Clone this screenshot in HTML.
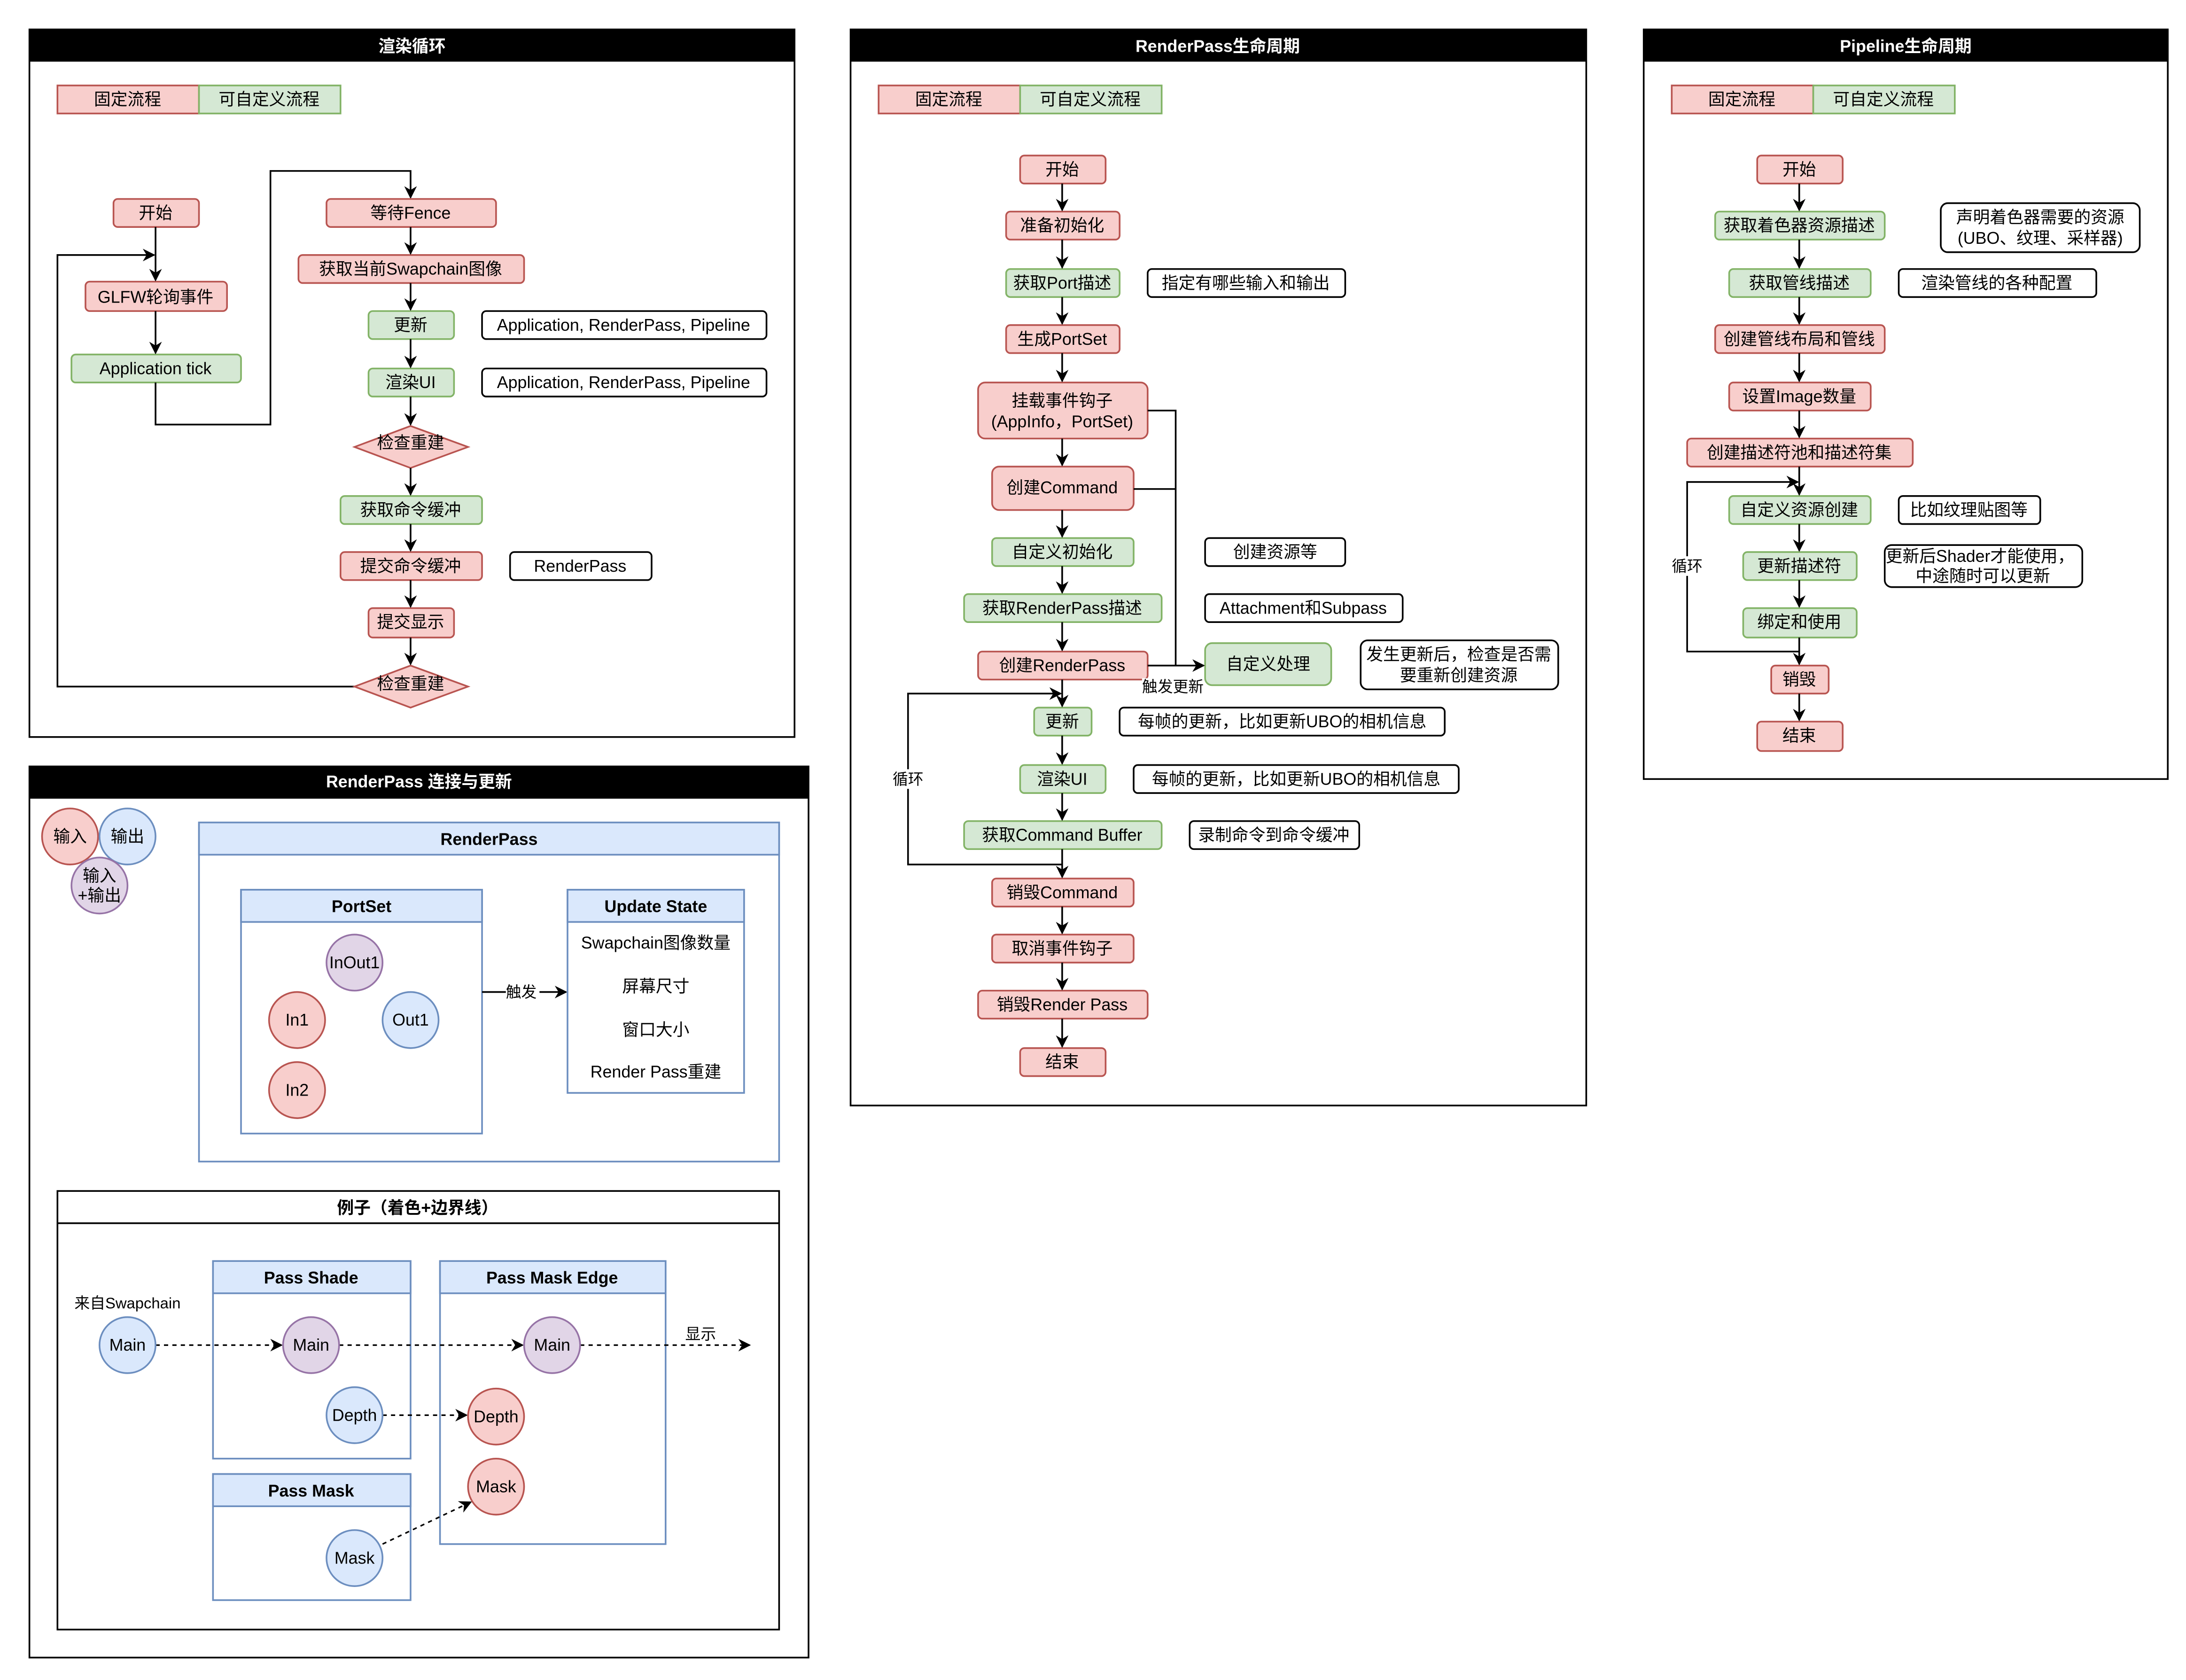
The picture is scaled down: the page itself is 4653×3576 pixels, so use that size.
<!DOCTYPE html>
<html><head><meta charset="utf-8"><style>
html,body{margin:0;padding:0;background:#fff;}
svg{display:block;}
text{font-family:"Liberation Sans","Noto Sans CJK SC",sans-serif;font-size:12px;fill:#000;text-anchor:middle;dominant-baseline:central;}
.t{font-weight:bold;fill:#fff;}
.b{font-weight:bold;}
.p{fill:#f8cecc;stroke:#b85450;stroke-width:1.2;}
.g{fill:#d5e8d4;stroke:#82b366;stroke-width:1.2;}
.w{fill:#fff;stroke:#000;stroke-width:1.2;}
.bl{fill:#dae8fc;stroke:#6c8ebf;stroke-width:1.2;}
.pu{fill:#e1d5e7;stroke:#9673a6;stroke-width:1.2;}
.bo{fill:none;stroke:#6c8ebf;stroke-width:1.2;}
.fr{fill:none;stroke:#000;stroke-width:1.2;}
.l{fill:none;stroke:#000;stroke-width:1.2;}
.a{fill:none;stroke:#000;stroke-width:1.2;marker-end:url(#ar);}
.d{fill:none;stroke:#000;stroke-width:1.1;stroke-dasharray:3 3;marker-end:url(#ar);}
</style></head><body>
<svg width="4653" height="3576" viewBox="0 0 1560 1199" preserveAspectRatio="none" xmlns="http://www.w3.org/2000/svg">
<defs><marker id="ar" viewBox="0 0 10 10" refX="9" refY="5" markerWidth="9" markerHeight="9" markerUnits="userSpaceOnUse" orient="auto"><path d="M0,0 L10,5 L0,10 L3,5 z" fill="#000"/></marker></defs>
<rect width="1560" height="1199" fill="#fff"/>

<!-- Panel 1 -->
<rect x="21" y="21" width="546" height="505" class="fr"/>
<rect x="21" y="21" width="546" height="23" fill="#000"/>
<text x="294" y="33" class="t">渲染循环</text>
<rect x="41" y="61" width="101" height="20" class="p"/><text x="91" y="71">固定流程</text>
<rect x="142" y="61" width="101" height="20" class="g"/><text x="192" y="71">可自定义流程</text>

<rect x="81" y="142" width="61" height="20" rx="3" class="p"/><text x="111" y="152">开始</text>
<rect x="61" y="201" width="101" height="21" rx="3" class="p"/><text x="111" y="212">GLFW轮询事件</text>
<rect x="51" y="253" width="121" height="20" rx="3" class="g"/><text x="111" y="263">Application tick</text>
<path d="M111 162 V200" class="a"/>
<path d="M111 222 V252" class="a"/>
<path d="M255 490 H41 V182 H110" class="a"/>
<path d="M111 273 V303 H193 V122 H293 V141" class="a"/>

<rect x="233" y="142" width="121" height="20" rx="3" class="p"/><text x="293" y="152">等待Fence</text>
<rect x="213" y="182" width="161" height="20" rx="3" class="p"/><text x="293" y="192">获取当前Swapchain图像</text>
<rect x="263" y="222" width="61" height="20" rx="3" class="g"/><text x="293" y="232">更新</text>
<rect x="344" y="222" width="203" height="20" rx="3" class="w"/><text x="445" y="232">Application, RenderPass, Pipeline</text>
<rect x="263" y="263" width="61" height="20" rx="3" class="g"/><text x="293" y="273">渲染UI</text>
<rect x="344" y="263" width="203" height="20" rx="3" class="w"/><text x="445" y="273">Application, RenderPass, Pipeline</text>
<path d="M253 319 L293 304 L334 319 L293 334 Z" class="p"/><text x="293" y="316">检查重建</text>
<rect x="243" y="354" width="101" height="20" rx="3" class="g"/><text x="293" y="364">获取命令缓冲</text>
<rect x="243" y="394" width="101" height="20" rx="3" class="p"/><text x="293" y="404">提交命令缓冲</text>
<rect x="364" y="394" width="101" height="20" rx="3" class="w"/><text x="414" y="404">RenderPass</text>
<rect x="263" y="434" width="61" height="21" rx="3" class="p"/><text x="293" y="444">提交显示</text>
<path d="M253 490 L293 475 L334 490 L293 505 Z" class="p"/><text x="293" y="488">检查重建</text>
<path d="M293 162 V181" class="a"/>
<path d="M293 202 V221" class="a"/>
<path d="M293 242 V262" class="a"/>
<path d="M293 283 V303" class="a"/>
<path d="M293 334 V353" class="a"/>
<path d="M293 374 V393" class="a"/>
<path d="M293 414 V433" class="a"/>
<path d="M293 455 V474" class="a"/>

<!-- Panel 2 -->
<rect x="607" y="21" width="525" height="768" class="fr"/>
<rect x="607" y="21" width="525" height="23" fill="#000"/>
<text x="869" y="33" class="t">RenderPass生命周期</text>
<rect x="627" y="61" width="101" height="20" class="p"/><text x="677" y="71">固定流程</text>
<rect x="728" y="61" width="101" height="20" class="g"/><text x="778" y="71">可自定义流程</text>

<rect x="728" y="111" width="61" height="20" rx="3" class="p"/><text x="758" y="121">开始</text>
<rect x="718" y="151" width="81" height="20" rx="3" class="p"/><text x="758" y="161">准备初始化</text>
<rect x="718" y="192" width="81" height="20" rx="3" class="g"/><text x="758" y="202">获取Port描述</text>
<rect x="819" y="192" width="141" height="20" rx="3" class="w"/><text x="889" y="202">指定有哪些输入和输出</text>
<rect x="718" y="232" width="81" height="20" rx="3" class="p"/><text x="758" y="242">生成PortSet</text>
<rect x="698" y="273" width="121" height="40" rx="5" class="p"/><text x="758" y="286">挂载事件钩子</text><text x="758" y="301">(AppInfo，PortSet)</text>
<rect x="708" y="333" width="101" height="31" rx="5" class="p"/><text x="758" y="348">创建Command</text>
<rect x="708" y="384" width="101" height="20" rx="3" class="g"/><text x="758" y="394">自定义初始化</text>
<rect x="860" y="384" width="100" height="20" rx="3" class="w"/><text x="910" y="394">创建资源等</text>
<rect x="688" y="424" width="141" height="20" rx="3" class="g"/><text x="758" y="434">获取RenderPass描述</text>
<rect x="860" y="424" width="141" height="20" rx="3" class="w"/><text x="930" y="434">Attachment和Subpass</text>
<rect x="698" y="465" width="121" height="20" rx="3" class="p"/><text x="758" y="475">创建RenderPass</text>
<rect x="860" y="459" width="90" height="30" rx="5" class="g"/><text x="905" y="474">自定义处理</text>
<rect x="971" y="457" width="141" height="35" rx="5" class="w"/><text x="1041" y="467">发生更新后，检查是否需</text><text x="1041" y="482">要重新创建资源</text>
<path d="M819 293 H839 V475" class="l"/>
<path d="M809 349 H839" class="l"/>
<path d="M819 475 H859" class="a"/>
<rect x="815" y="484" width="44" height="12" fill="#fff"/><text x="837" y="490" style="font-size:11px">触发更新</text>
<rect x="738" y="505" width="41" height="20" rx="3" class="g"/><text x="758" y="515">更新</text>
<rect x="799" y="505" width="232" height="20" rx="3" class="w"/><text x="915" y="515">每帧的更新，比如更新UBO的相机信息</text>
<rect x="728" y="546" width="61" height="20" rx="3" class="g"/><text x="758" y="556">渲染UI</text>
<rect x="809" y="546" width="232" height="20" rx="3" class="w"/><text x="925" y="556">每帧的更新，比如更新UBO的相机信息</text>
<rect x="688" y="586" width="141" height="20" rx="3" class="g"/><text x="758" y="596">获取Command Buffer</text>
<rect x="849" y="586" width="121" height="20" rx="3" class="w"/><text x="909" y="596">录制命令到命令缓冲</text>
<path d="M758 617 H648 V495 H757" class="a"/>
<rect x="636" y="549" width="24" height="14" fill="#fff"/><text x="648" y="556" style="font-size:11px">循环</text>
<rect x="708" y="627" width="101" height="20" rx="3" class="p"/><text x="758" y="637">销毁Command</text>
<rect x="708" y="667" width="101" height="20" rx="3" class="p"/><text x="758" y="677">取消事件钩子</text>
<rect x="698" y="707" width="121" height="20" rx="3" class="p"/><text x="758" y="717">销毁Render Pass</text>
<rect x="728" y="748" width="61" height="20" rx="3" class="p"/><text x="758" y="758">结束</text>
<path d="M758 131 V150" class="a"/>
<path d="M758 171 V191" class="a"/>
<path d="M758 212 V231" class="a"/>
<path d="M758 252 V272" class="a"/>
<path d="M758 313 V332" class="a"/>
<path d="M758 364 V383" class="a"/>
<path d="M758 404 V423" class="a"/>
<path d="M758 444 V464" class="a"/>
<path d="M758 485 V504" class="a"/>
<path d="M758 525 V545" class="a"/>
<path d="M758 566 V585" class="a"/>
<path d="M758 606 V626" class="a"/>
<path d="M758 647 V666" class="a"/>
<path d="M758 687 V706" class="a"/>
<path d="M758 727 V747" class="a"/>

<!-- Panel 3 -->
<rect x="1173" y="21" width="374" height="535" class="fr"/>
<rect x="1173" y="21" width="374" height="23" fill="#000"/>
<text x="1360" y="33" class="t">Pipeline生命周期</text>
<rect x="1193" y="61" width="101" height="20" class="p"/><text x="1243" y="71">固定流程</text>
<rect x="1294" y="61" width="101" height="20" class="g"/><text x="1344" y="71">可自定义流程</text>

<rect x="1254" y="111" width="61" height="20" rx="3" class="p"/><text x="1284" y="121">开始</text>
<rect x="1224" y="151" width="121" height="20" rx="3" class="g"/><text x="1284" y="161">获取着色器资源描述</text>
<rect x="1385" y="145" width="142" height="35" rx="5" class="w"/><text x="1456" y="155">声明着色器需要的资源</text><text x="1456" y="170">(UBO、纹理、采样器)</text>
<rect x="1234" y="192" width="101" height="20" rx="3" class="g"/><text x="1284" y="202">获取管线描述</text>
<rect x="1355" y="192" width="141" height="20" rx="3" class="w"/><text x="1425" y="202">渲染管线的各种配置</text>
<rect x="1224" y="232" width="121" height="20" rx="3" class="p"/><text x="1284" y="242">创建管线布局和管线</text>
<rect x="1234" y="273" width="101" height="20" rx="3" class="p"/><text x="1284" y="283">设置Image数量</text>
<rect x="1204" y="313" width="161" height="20" rx="3" class="p"/><text x="1284" y="323">创建描述符池和描述符集</text>
<rect x="1234" y="354" width="101" height="20" rx="3" class="g"/><text x="1284" y="364">自定义资源创建</text>
<rect x="1355" y="354" width="101" height="20" rx="3" class="w"/><text x="1405" y="364">比如纹理贴图等</text>
<rect x="1244" y="394" width="81" height="20" rx="3" class="g"/><text x="1284" y="404">更新描述符</text>
<rect x="1345" y="389" width="141" height="30" rx="5" class="w"/><text x="1413" y="397">更新后Shader才能使用，</text><text x="1415" y="411">中途随时可以更新</text>
<rect x="1244" y="434" width="81" height="21" rx="3" class="g"/><text x="1284" y="444">绑定和使用</text>
<path d="M1284 465 H1204 V344 H1283" class="a"/>
<rect x="1191" y="397" width="26" height="14" fill="#fff"/><text x="1204" y="404" style="font-size:11px">循环</text>
<rect x="1264" y="475" width="41" height="20" rx="3" class="p"/><text x="1284" y="485">销毁</text>
<rect x="1254" y="515" width="61" height="21" rx="3" class="p"/><text x="1284" y="525">结束</text>
<path d="M1284 131 V150" class="a"/>
<path d="M1284 171 V191" class="a"/>
<path d="M1284 212 V231" class="a"/>
<path d="M1284 252 V272" class="a"/>
<path d="M1284 293 V312" class="a"/>
<path d="M1284 333 V353" class="a"/>
<path d="M1284 374 V393" class="a"/>
<path d="M1284 414 V433" class="a"/>
<path d="M1284 455 V474" class="a"/>
<path d="M1284 495 V514" class="a"/>

<!-- Panel 4 -->
<rect x="21" y="547" width="556" height="636" class="fr"/>
<rect x="21" y="547" width="556" height="23" fill="#000"/>
<text x="299" y="558" class="t">RenderPass 连接与更新</text>
<circle cx="50" cy="597" r="20" class="p"/><text x="50" y="597">输入</text>
<circle cx="91" cy="597" r="20" class="bl"/><text x="91" y="597">输出</text>
<circle cx="71" cy="632" r="20" class="pu"/><text x="71" y="625">输入</text><text x="71" y="639">+输出</text>

<rect x="142" y="587" width="414" height="242" class="bo"/>
<rect x="142" y="587" width="414" height="23" class="bl"/><text x="349" y="599" class="b">RenderPass</text>
<rect x="172" y="635" width="172" height="174" class="bo"/>
<rect x="172" y="635" width="172" height="23" class="bl"/><text x="258" y="647" class="b">PortSet</text>
<circle cx="253" cy="687" r="20" class="pu"/><text x="253" y="687">InOut1</text>
<circle cx="212" cy="728" r="20" class="p"/><text x="212" y="728">In1</text>
<circle cx="293" cy="728" r="20" class="bl"/><text x="293" y="728">Out1</text>
<circle cx="212" cy="778" r="20" class="p"/><text x="212" y="778">In2</text>
<path d="M344 708 H404" class="a"/>
<rect x="361" y="701" width="24" height="14" fill="#fff"/><text x="372" y="708" style="font-size:11px">触发</text>
<rect x="405" y="635" width="126" height="145" class="bo"/>
<rect x="405" y="635" width="126" height="23" class="bl"/><text x="468" y="647" class="b">Update State</text>
<text x="468" y="673">Swapchain图像数量</text>
<text x="468" y="704">屏幕尺寸</text>
<text x="468" y="735">窗口大小</text>
<text x="468" y="765">Render Pass重建</text>

<rect x="41" y="850" width="515" height="313" class="fr"/>
<path d="M41 873 H556" class="l"/>
<text x="298" y="862" class="b">例子（着色+边界线）</text>
<rect x="152" y="900" width="141" height="141" class="bo"/>
<rect x="152" y="900" width="141" height="23" class="bl"/><text x="222" y="912" class="b">Pass Shade</text>
<rect x="314" y="900" width="161" height="202" class="bo"/>
<rect x="314" y="900" width="161" height="23" class="bl"/><text x="394" y="912" class="b">Pass Mask Edge</text>
<rect x="152" y="1052" width="141" height="90" class="bo"/>
<rect x="152" y="1052" width="141" height="23" class="bl"/><text x="222" y="1064" class="b">Pass Mask</text>
<text x="91" y="930" style="font-size:11px">来自Swapchain</text>
<path d="M111 960 H201" class="d"/>
<path d="M242 960 H373" class="d"/>
<path d="M414 960 H535" class="d"/>
<text x="500" y="952" style="font-size:11px">显示</text>
<path d="M273 1010 H333" class="d"/>
<path d="M273 1102 L336 1072" class="d"/>
<circle cx="91" cy="960" r="20" class="bl"/><text x="91" y="960">Main</text>
<circle cx="222" cy="960" r="20" class="pu"/><text x="222" y="960">Main</text>
<circle cx="253" cy="1010" r="20" class="bl"/><text x="253" y="1010">Depth</text>
<circle cx="394" cy="960" r="20" class="pu"/><text x="394" y="960">Main</text>
<circle cx="354" cy="1011" r="20" class="p"/><text x="354" y="1011">Depth</text>
<circle cx="354" cy="1061" r="20" class="p"/><text x="354" y="1061">Mask</text>
<circle cx="253" cy="1112" r="20" class="bl"/><text x="253" y="1112">Mask</text>
</svg>
</body></html>
